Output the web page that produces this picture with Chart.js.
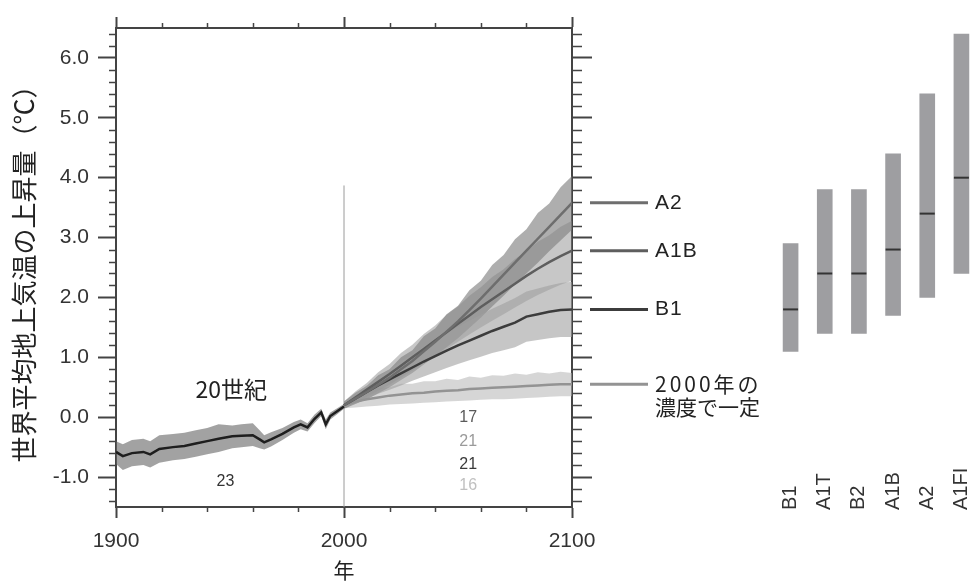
<!DOCTYPE html>
<html lang="ja">
<head>
<meta charset="utf-8">
<title>世界平均地上気温の上昇量</title>
<script src="https://cdn.jsdelivr.net/npm/chart.js@4.4.1/dist/chart.umd.min.js"></script>
<style>
  html, body { margin: 0; padding: 0; background: #fff; overflow: hidden; }
  #wrap { position: relative; width: 974px; height: 581px; overflow: hidden; }
  #main { position: absolute; left: 0; top: 0; }
  #bars { position: absolute; left: 764px; top: 0; }
</style>
</head>
<body>
<div id="wrap">
  <canvas id="main" width="974" height="581"></canvas>
  <canvas id="bars" width="224" height="581"></canvas>
</div>
<script>
// axis ticks
const xMajorTicks = [1900, 2000, 2100];
const xMinorTicks = [1920, 1940, 1960, 1980, 2020, 2040, 2060, 2080];
const yMajorTicks = [-1, 0, 1, 2, 3, 4, 5, 6];
const yTitle = '世界平均地上気温の上昇量（℃）';
const xTitle = '年';

// 20th century (model mean and spread)
const histYears = [1900, 1903, 1907, 1912, 1915, 1919, 1925, 1930, 1935, 1940, 1945, 1951, 1955, 1960, 1963, 1965, 1968, 1973, 1978, 1981, 1984, 1987, 1990, 1992, 1994, 1997, 2000];
const histMean = [-0.58, -0.65, -0.60, -0.58, -0.62, -0.53, -0.50, -0.48, -0.44, -0.40, -0.36, -0.32, -0.31, -0.30, -0.37, -0.42, -0.37, -0.28, -0.17, -0.12, -0.17, -0.03, 0.08, -0.12, 0.02, 0.10, 0.18];
const histUpper = [-0.40, -0.45, -0.38, -0.36, -0.40, -0.30, -0.28, -0.26, -0.22, -0.18, -0.12, -0.14, -0.12, -0.10, -0.22, -0.30, -0.25, -0.18, -0.08, -0.04, -0.10, 0.04, 0.14, -0.04, 0.08, 0.15, 0.22];
const histLower = [-0.78, -0.88, -0.82, -0.80, -0.84, -0.76, -0.72, -0.70, -0.66, -0.62, -0.58, -0.52, -0.50, -0.48, -0.52, -0.54, -0.49, -0.38, -0.26, -0.20, -0.24, -0.10, 0.02, -0.20, -0.04, 0.05, 0.14];

// 21st century scenarios
const futYears = [2000, 2005, 2010, 2015, 2020, 2025, 2030, 2035, 2040, 2045, 2050, 2055, 2060, 2065, 2070, 2075, 2080, 2085, 2090, 2095, 2100];
const a2Mean = [0.20, 0.31, 0.42, 0.54, 0.66, 0.80, 0.94, 1.10, 1.26, 1.43, 1.60, 1.79, 1.98, 2.18, 2.38, 2.58, 2.78, 2.98, 3.18, 3.38, 3.58];
const a2Upper = [0.26, 0.41, 0.52, 0.70, 0.80, 1.00, 1.12, 1.35, 1.48, 1.72, 1.86, 2.12, 2.28, 2.54, 2.71, 2.97, 3.14, 3.41, 3.57, 3.84, 4.03];
const a2Lower = [0.14, 0.22, 0.30, 0.40, 0.50, 0.62, 0.74, 0.88, 1.02, 1.17, 1.32, 1.49, 1.66, 1.85, 2.03, 2.22, 2.40, 2.58, 2.77, 2.95, 3.13];
const a1bMean = [0.20, 0.33, 0.46, 0.59, 0.72, 0.86, 1.00, 1.14, 1.28, 1.42, 1.56, 1.70, 1.84, 1.97, 2.10, 2.23, 2.36, 2.48, 2.59, 2.69, 2.78];
const a1bUpper = [0.26, 0.43, 0.57, 0.75, 0.89, 1.07, 1.21, 1.39, 1.53, 1.71, 1.85, 2.03, 2.17, 2.34, 2.47, 2.64, 2.77, 2.93, 3.04, 3.18, 3.28];
const a1bLower = [0.14, 0.24, 0.34, 0.44, 0.54, 0.66, 0.78, 0.90, 1.02, 1.14, 1.26, 1.38, 1.50, 1.61, 1.72, 1.83, 1.94, 2.04, 2.13, 2.21, 2.28];
const b1Mean = [0.20, 0.31, 0.42, 0.53, 0.63, 0.73, 0.83, 0.93, 1.02, 1.11, 1.20, 1.28, 1.36, 1.44, 1.51, 1.58, 1.68, 1.72, 1.76, 1.79, 1.80];
const b1Upper = [0.25, 0.39, 0.53, 0.67, 0.80, 0.93, 1.05, 1.18, 1.29, 1.40, 1.51, 1.61, 1.71, 1.81, 1.90, 1.99, 2.10, 2.15, 2.20, 2.24, 2.26];
const b1Lower = [0.15, 0.23, 0.31, 0.39, 0.46, 0.53, 0.61, 0.68, 0.75, 0.82, 0.89, 0.95, 1.01, 1.07, 1.12, 1.17, 1.26, 1.29, 1.32, 1.34, 1.34];
const commitMean = [0.20, 0.26, 0.30, 0.33, 0.36, 0.38, 0.40, 0.41, 0.43, 0.44, 0.45, 0.47, 0.48, 0.49, 0.50, 0.51, 0.52, 0.53, 0.54, 0.55, 0.55];
const commitUpper = [0.25, 0.37, 0.41, 0.49, 0.50, 0.56, 0.56, 0.60, 0.60, 0.64, 0.62, 0.68, 0.66, 0.70, 0.69, 0.73, 0.71, 0.75, 0.73, 0.76, 0.74];
const commitLower = [0.15, 0.16, 0.18, 0.19, 0.21, 0.22, 0.23, 0.24, 0.25, 0.26, 0.27, 0.28, 0.29, 0.30, 0.30, 0.31, 0.32, 0.33, 0.34, 0.35, 0.35];

// start of projections marker
const splitYears = [2000, 2000];
const splitValues = [-1.5, 3.87];

const scenarioNames = ['A2', 'A1B', 'B1', '2000年の\n濃度で一定'];
const modelCounts = ['17', '21', '21', '16'];
const histCount = '23';

// likely ranges at 2090-2099 (right panel)
const rangeLabels = ['B1', 'A1T', 'B2', 'A1B', 'A2', 'A1FI'];
const rangeLow = [1.1, 1.4, 1.4, 1.7, 2.0, 2.4];
const rangeHigh = [2.9, 3.8, 3.8, 4.4, 5.4, 6.4];
const rangeBest = [1.8, 2.4, 2.4, 2.8, 3.4, 4.0];

const FONT = "'Liberation Sans', Arial, sans-serif";
const JFONT = "'Noto Sans CJK JP', sans-serif";
const AXIS = '#444';

const pts = (xs, ys) => xs.map((x, i) => ({ x: x, y: ys[i] }));

const lineDs = (data, color, width) => ({
  data: data, borderColor: color, borderWidth: width,
  pointRadius: 0, fill: false, tension: 0, order: 0,
});

const bandDs = (xs, lo, hi, color) => [
  { data: pts(xs, lo), borderColor: 'rgba(0,0,0,0)', borderWidth: 0, pointRadius: 0, fill: false, order: 1 },
  { data: pts(xs, hi), borderColor: 'rgba(0,0,0,0)', borderWidth: 0, pointRadius: 0, fill: '-1', backgroundColor: color, order: 1 },
];

const series = [
  { mean: a2Mean, color: '#6e6e6e' },
  { mean: a1bMean, color: '#5e5e5e' },
  { mean: b1Mean, color: '#3c3c3c' },
  { mean: commitMean, color: '#939393' },
];

const datasets = [
  lineDs(pts(histYears, histMean), '#1e1e1e', 2.5),
  lineDs(pts(futYears, a2Mean), series[0].color, 2.5),
  lineDs(pts(futYears, a1bMean), series[1].color, 2.5),
  lineDs(pts(futYears, b1Mean), series[2].color, 2.5),
  lineDs(pts(futYears, commitMean), series[3].color, 2.5),
  lineDs(pts(splitYears, splitValues), '#9a9a9a', 1),
  ...bandDs(histYears, histLower, histUpper, 'rgba(100,100,100,0.6)'),
  ...bandDs(futYears, b1Lower, b1Upper, 'rgba(160,160,160,0.6)'),
  ...bandDs(futYears, a1bLower, a1bUpper, 'rgba(130,130,130,0.45)'),
  ...bandDs(futYears, a2Lower, a2Upper, 'rgba(120,120,120,0.6)'),
  ...bandDs(futYears, commitLower, commitUpper, 'rgba(180,180,180,0.55)'),
];

const axisLook = (tickLen) => ({
  border: { display: true, color: AXIS, width: 2 },
  grid: { display: true, drawOnChartArea: false, drawTicks: true, tickLength: tickLen, tickColor: AXIS, tickWidth: 2 },
});

// minor ticks, scenario labels and notes
const annotations = {
  id: 'annotations',
  afterDraw(chart) {
    const { ctx, chartArea: a, scales: { x, y } } = chart;
    ctx.save();

    ctx.strokeStyle = AXIS;
    ctx.lineWidth = 1.5;
    ctx.beginPath();
    for (let v = -1.4; v < 6.45; v += 0.2) {
      if (Math.abs(v - Math.round(v)) < 0.01) continue;
      const py = Math.round(y.getPixelForValue(v)) + 0.5;
      ctx.moveTo(a.left - 7, py); ctx.lineTo(a.left, py);
      ctx.moveTo(a.right, py); ctx.lineTo(a.right + 10, py);
    }
    xMinorTicks.forEach(v => {
      const px = Math.round(x.getPixelForValue(v)) + 0.5;
      ctx.moveTo(px, a.top - 5); ctx.lineTo(px, a.top);
      ctx.moveTo(px, a.bottom); ctx.lineTo(px, a.bottom + 5);
    });
    ctx.stroke();

    // scenario names at the end of each mean curve
    ctx.textBaseline = 'middle';
    ctx.textAlign = 'left';
    series.forEach((s, i) => {
      const py = y.getPixelForValue(s.mean[s.mean.length - 1]);
      ctx.strokeStyle = s.color;
      ctx.lineWidth = 3;
      ctx.beginPath();
      ctx.moveTo(a.right + 18, py); ctx.lineTo(a.right + 76, py);
      ctx.stroke();
      ctx.fillStyle = '#222';
      const parts = scenarioNames[i].split('\n');
      parts.forEach((t, k) => {
        if (parts.length > 1) {
          ctx.font = '21px ' + JFONT;
          ctx.letterSpacing = k === 0 ? '3px' : '0px';
        } else {
          ctx.font = '21px ' + FONT;
          ctx.letterSpacing = '1px';
        }
        ctx.fillText(t, a.right + 83, py + k * 23);
      });
    });
    ctx.letterSpacing = '0px';

    ctx.textAlign = 'center';
    ctx.fillStyle = '#222';
    ctx.font = '23px ' + JFONT;
    ctx.fillText('20世紀', x.getPixelForValue(1950.5), y.getPixelForValue(0.47));

    ctx.font = '16px ' + FONT;
    ctx.fillStyle = '#333';
    ctx.fillText(histCount, x.getPixelForValue(1948), y.getPixelForValue(-1.08));
    const countColors = ['#5a5a5a', '#9a9a9a', '#3a3a3a', '#c0c0c0'];
    const countPos = [0.0, -0.4, -0.8, -1.15];
    modelCounts.forEach((t, i) => {
      ctx.fillStyle = countColors[i];
      ctx.fillText(t, x.getPixelForValue(2054.5), y.getPixelForValue(countPos[i]));
    });
    ctx.restore();
  }
};

new Chart(document.getElementById('main'), {
  type: 'line',
  data: { datasets: datasets },
  options: {
    responsive: false,
    animation: false,
    events: [],
    layout: { padding: 0 },
    plugins: { legend: { display: false }, tooltip: { enabled: false } },
    scales: {
      x: {
        type: 'linear', position: 'bottom', min: 1900, max: 2100,
        afterBuildTicks: s => { s.ticks = xMajorTicks.map(v => ({ value: v })); },
        afterFit: s => { s.height = 74; },
        ticks: { font: { size: 21, family: FONT }, color: '#333', padding: 11, maxRotation: 0, autoSkip: false, callback: v => String(v) },
        title: { display: true, text: xTitle, font: { size: 21, family: JFONT, lineHeight: 1 }, color: '#222', padding: 0 },
        ...axisLook(11),
      },
      x2: {
        type: 'linear', position: 'top', min: 1900, max: 2100,
        afterBuildTicks: s => { s.ticks = xMajorTicks.map(v => ({ value: v })); },
        afterFit: s => { s.height = 28; },
        ticks: { display: false },
        ...axisLook(11),
      },
      y: {
        type: 'linear', position: 'left', min: -1.5, max: 6.5,
        afterBuildTicks: s => { s.ticks = yMajorTicks.map(v => ({ value: v })); },
        afterFit: s => { s.width = 116; },
        ticks: { font: { size: 21, family: FONT }, color: '#333', padding: 9, callback: v => v.toFixed(1) },
        title: { display: true, text: yTitle, font: { size: 26, family: JFONT, lineHeight: 1.2 }, color: '#222', padding: { top: 9, bottom: 0 } },
        ...axisLook(18),
      },
      y2: {
        type: 'linear', position: 'right', min: -1.5, max: 6.5,
        afterBuildTicks: s => { s.ticks = yMajorTicks.map(v => ({ value: v })); },
        afterFit: s => { s.width = 402; },
        ticks: { display: false },
        ...axisLook(20),
      },
    },
  },
  plugins: [annotations],
});

// right panel: likely ranges with best estimates
const rangeNames = {
  id: 'rangeNames',
  afterDraw(chart) {
    const { ctx, scales: { x } } = chart;
    ctx.save();
    ctx.font = '20px ' + FONT;
    ctx.fillStyle = '#333';
    ctx.textAlign = 'left';
    ctx.textBaseline = 'middle';
    rangeLabels.forEach((t, i) => {
      ctx.save();
      ctx.translate(x.getPixelForValue(i), 510);
      ctx.rotate(-Math.PI / 2);
      ctx.fillText(t, 0, 0);
      ctx.restore();
    });
    ctx.restore();
  }
};

new Chart(document.getElementById('bars'), {
  type: 'bar',
  data: {
    labels: rangeLabels,
    datasets: [
      {
        type: 'line', data: rangeBest, showLine: false,
        pointStyle: 'line', pointRadius: 7.5, pointBorderWidth: 2,
        pointBorderColor: '#333', borderColor: '#333', order: 0,
      },
      {
        type: 'bar', data: rangeLow.map((lo, i) => [lo, rangeHigh[i]]),
        backgroundColor: '#9e9ea1', barThickness: 15, order: 1,
      },
    ],
  },
  options: {
    responsive: false,
    animation: false,
    events: [],
    layout: { padding: { top: 28, bottom: 74, left: 0, right: 0 } },
    plugins: { legend: { display: false }, tooltip: { enabled: false } },
    scales: {
      x: { type: 'category', display: false },
      y: { type: 'linear', display: false, min: -1.5, max: 6.5 },
    },
  },
  plugins: [rangeNames],
});
</script>
</body>
</html>
